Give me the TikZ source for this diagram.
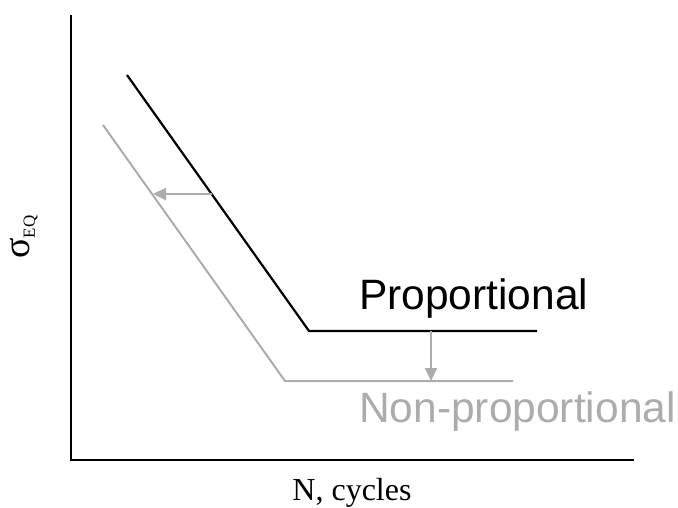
\documentclass[tikz,border=0pt]{standalone}
\usepackage{fontspec}
\setmainfont{Liberation Serif}
\newfontfamily\curvefont{Liberation Sans}
\usetikzlibrary{arrows.meta}
\definecolor{curveblack}{RGB}{0,0,0}
\definecolor{curvegray}{RGB}{172,172,172}
\tikzset{
  axis/.style   ={line width=2.4pt, black},
  snprop/.style ={line width=2.2pt, curveblack},
  snnon/.style  ={line width=2pt, curvegray},
  snshift/.style={line width=2pt, curvegray, -{Triangle[length=13pt, width=12pt]}},
  curvelbl/.style={font=\curvefont\fontsize{42.5}{42.5}\selectfont, inner sep=0pt, anchor=base west},
  axislbl/.style ={font=\fontsize{32}{32}\selectfont, inner sep=0pt},
}
\begin{document}
\begin{tikzpicture}[x=1pt, y=1pt]
  \useasboundingbox (0,0) rectangle (678,507);
  % axes
  \coordinate (top) at (71,492);
  \coordinate (org) at (71,47);
  \coordinate (rgt) at (634,47);
  \draw[axis] (top) -- (org) -- (rgt);
  % proportional curve
  \coordinate (p1) at (127,432);
  \coordinate (p2) at (309,176);
  \coordinate (p3) at (537,176);
  \draw[snprop, line join=miter] (p1) -- (p2) -- (p3);
  % non-proportional curve
  \coordinate (n1) at (103,382);
  \coordinate (n2) at (285,126);
  \coordinate (n3) at (513,126);
  \draw[snnon, line join=miter] (n1) -- (n2) -- (n3);
  % shifts
  \coordinate (hs) at (212,313);
  \coordinate (he) at (153,313);
  \draw[snshift] (hs) -- (he);
  \coordinate (vs) at (431,176);
  \coordinate (ve) at (431,126);
  \draw[snshift] (vs) -- (ve);
  % labels
  \node[curvelbl] (lprop) at (359,197) {Proportional};
  \node[curvelbl, text=curvegray] (lnon) at (359,85) {Non-proportional};
  \node[axislbl, anchor=base] (lx) at (352,7) {N, cycles};
  \node[axislbl, rotate=90] (ly) at (24,270) {\fontsize{38}{38}\selectfont σ\raisebox{-0.3ex}{\fontsize{17}{17}\selectfont EQ}};
\end{tikzpicture}
\end{document}
